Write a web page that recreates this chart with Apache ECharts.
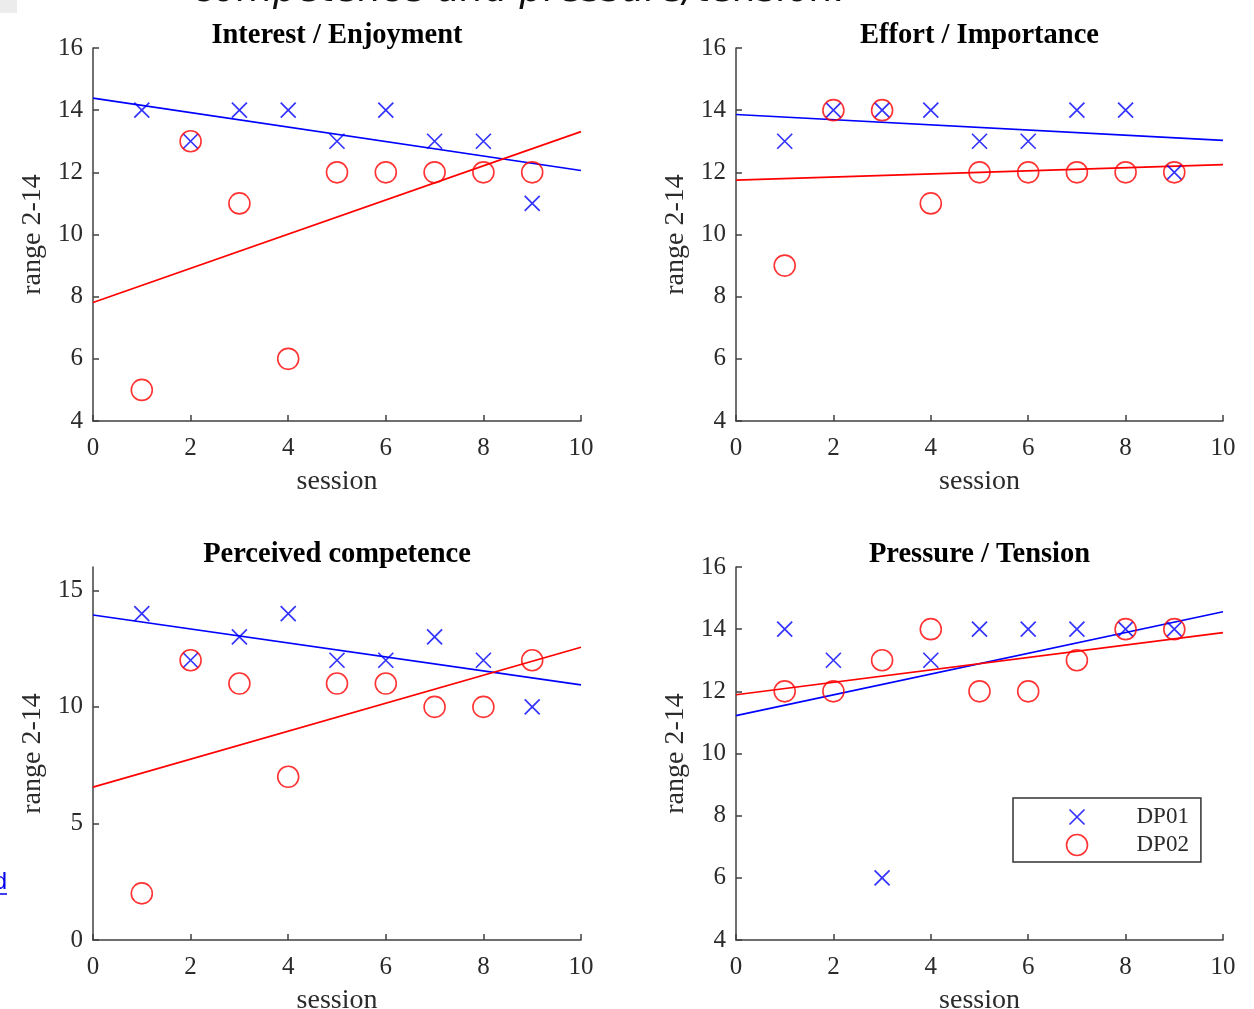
<!DOCTYPE html>
<html>
<head>
<meta charset="utf-8">
<script src="https://cdn.jsdelivr.net/npm/echarts@6/dist/echarts.min.js"></script>
<style>
  html, body { margin: 0; padding: 0; background: #fff; }
  #chart { width: 1254px; height: 1009px; }
</style>
</head>
<body>
<div id="chart"></div>
<script>
// ---- data ----
const sessions = [1, 2, 3, 4, 5, 6, 7, 8, 9];
const panelTitles = ['Interest / Enjoyment', 'Effort / Importance', 'Perceived competence', 'Pressure / Tension'];
const seriesNames = ['DP01', 'DP02'];

const dp01Interest   = [14, 13, 14, 14, 13, 14, 13, 13, 11];
const dp02Interest   = [5, 13, 11, 6, 12, 12, 12, 12, 12];
const dp01Effort     = [13, 14, 14, 14, 13, 13, 14, 14, 12];
const dp02Effort     = [9, 14, 14, 11, 12, 12, 12, 12, 12];
const dp01Competence = [14, 12, 13, 14, 12, 12, 13, 12, 10];
const dp02Competence = [2, 12, 11, 7, 11, 11, 10, 10, 12];
const dp01Pressure   = [14, 13, 6, 13, 14, 14, 14, 14, 14];
const dp02Pressure   = [12, 12, 13, 14, 12, 12, 13, 14, 14];

// trend lines, read at session 0 and session 10
const fitSessions       = [0, 10];
const dp01InterestFit   = [14.39, 12.06];
const dp02InterestFit   = [7.81, 13.31];
const dp01EffortFit     = [13.86, 13.03];
const dp02EffortFit     = [11.75, 12.25];
const dp01CompetenceFit = [13.94, 10.94];
const dp02CompetenceFit = [6.56, 12.56];
const dp01PressureFit   = [11.22, 14.56];
const dp02PressureFit   = [11.89, 13.89];

// tick labels
const xTickValues  = [0, 2, 4, 6, 8, 10];
const yTicksRange  = [4, 6, 8, 10, 12, 14, 16];
const yTicksComp   = [0, 5, 10, 15];

// ---- build chart ----
const SERIF = '"Liberation Serif", "Times New Roman", serif';
const AX = '#404040';
const TXT = '#2b2b2b';
const BLUE = '#0000ff';
const RED = '#ff0000';
const CROSS = 'path://M0,0L10,10M10,0L0,10';
const CROSS_LEGEND = 'path://M-2,-2M12,12M0,0L10,10M10,0L0,10';

const panels = [
  { d1: dp01Interest, d2: dp02Interest, f1: dp01InterestFit, f2: dp02InterestFit, yMin: 4, yMax: 16, yInt: 2, yTicks: yTicksRange },
  { d1: dp01Effort, d2: dp02Effort, f1: dp01EffortFit, f2: dp02EffortFit, yMin: 4, yMax: 16, yInt: 2, yTicks: yTicksRange },
  { d1: dp01Competence, d2: dp02Competence, f1: dp01CompetenceFit, f2: dp02CompetenceFit, yMin: 0, yMax: 16, yInt: 5, yTicks: yTicksComp },
  { d1: dp01Pressure, d2: dp02Pressure, f1: dp01PressureFit, f2: dp02PressureFit, yMin: 4, yMax: 16, yInt: 2, yTicks: yTicksRange }
];

const gridBoxes = [
  { left: 93,  top: 48,  width: 488, height: 373 },
  { left: 736, top: 48,  width: 487, height: 373 },
  { left: 93,  top: 567, width: 488, height: 373 },
  { left: 736, top: 567, width: 487, height: 373 }
];

const grids = [], xAxes = [], yAxes = [], series = [], graphics = [];

panels.forEach((p, i) => {
  const g = gridBoxes[i];
  grids.push(Object.assign({ containLabel: false, outerBoundsMode: 'none' }, g));

  const axisCommon = {
    gridIndex: i,
    type: 'value',
    splitLine: { show: false },
    axisLine: { show: true, lineStyle: { color: AX, width: 1.5 } },
    axisTick: { show: true, inside: true, length: 6, lineStyle: { color: AX, width: 1.5 } },
    nameLocation: 'middle',
    nameTextStyle: { fontFamily: SERIF, fontSize: 28, color: TXT }
  };

  xAxes.push(Object.assign({}, axisCommon, {
    min: 0, max: 10, interval: 2,
    name: 'session', nameGap: 47,
    axisTick: Object.assign({}, axisCommon.axisTick, { customValues: xTickValues }),
    axisLabel: { margin: 15, fontFamily: SERIF, fontSize: 25, color: TXT, customValues: xTickValues }
  }));

  yAxes.push(Object.assign({}, axisCommon, {
    min: p.yMin, max: p.yMax, interval: p.yInt,
    name: 'range 2-14', nameGap: 46,
    axisTick: Object.assign({}, axisCommon.axisTick, { customValues: p.yTicks }),
    axisLabel: { margin: 10, fontFamily: SERIF, fontSize: 25, color: TXT, customValues: p.yTicks }
  }));

  series.push({
    name: seriesNames[0], type: 'scatter', xAxisIndex: i, yAxisIndex: i,
    data: sessions.map((s, k) => [s, p.d1[k]]),
    symbol: CROSS, symbolSize: 15,
    itemStyle: { color: 'none', borderColor: BLUE, borderWidth: 1.7 },
    emphasis: { disabled: true }, z: 3
  });
  series.push({
    name: seriesNames[1], type: 'scatter', xAxisIndex: i, yAxisIndex: i,
    data: sessions.map((s, k) => [s, p.d2[k]]),
    symbol: 'circle', symbolSize: 21,
    itemStyle: { color: 'none', borderColor: RED, borderWidth: 1.6 },
    emphasis: { disabled: true }, z: 3
  });
  series.push({
    name: 'DP01 trend', type: 'line', xAxisIndex: i, yAxisIndex: i,
    data: fitSessions.map((s, k) => [s, p.f1[k]]),
    symbol: 'none', lineStyle: { color: BLUE, width: 1.7 }, silent: true, z: 2
  });
  series.push({
    name: 'DP02 trend', type: 'line', xAxisIndex: i, yAxisIndex: i,
    data: fitSessions.map((s, k) => [s, p.f2[k]]),
    symbol: 'none', lineStyle: { color: RED, width: 1.7 }, silent: true, z: 2
  });

  graphics.push({
    type: 'text',
    x: g.left + g.width / 2,
    y: g.top - 12,
    style: {
      text: panelTitles[i],
      textAlign: 'center', textVerticalAlign: 'middle',
      font: 'bold 28.5px ' + SERIF, fill: '#000'
    }
  });
});

// surrounding page fragments visible in the screenshot
graphics.push({
  type: 'rect', shape: { x: 0, y: 0, width: 17, height: 13 },
  style: { fill: '#ececec' }
});
graphics.push({
  type: 'text', x: 193, y: -9,
  style: {
    text: 'competence and pressure/tension.',
    textAlign: 'left', textVerticalAlign: 'middle',
    font: 'italic 37.5px "DejaVu Sans", sans-serif', fill: '#111'
  }
});
graphics.push({
  type: 'text', x: 7, y: 882,
  style: { text: 'd', textAlign: 'right', textVerticalAlign: 'middle', font: '24px "Liberation Sans", sans-serif', fill: '#0000ee' }
});
graphics.push({
  type: 'line', shape: { x1: 0, y1: 894, x2: 7, y2: 894 },
  style: { stroke: '#0000ee', lineWidth: 1.5 }
});

const option = {
  backgroundColor: '#fff',
  animation: false,
  grid: grids,
  xAxis: xAxes,
  yAxis: yAxes,
  series: series,
  graphic: graphics,
  legend: {
    show: true,
    orient: 'vertical',
    left: 1013, top: 798,
    padding: [6, 12, 4, 51],
    itemWidth: 21, itemHeight: 21, itemGap: 2,
    borderColor: '#333', borderWidth: 1.5, borderRadius: 0,
    backgroundColor: '#fff',
    selectedMode: false,
    textStyle: { fontFamily: SERIF, fontSize: 23, color: TXT, padding: [0, 0, 0, 44] },
    data: [
      { name: 'DP01', icon: CROSS_LEGEND, itemStyle: { color: 'none', borderColor: BLUE, borderWidth: 1.7 } },
      { name: 'DP02', icon: 'circle', itemStyle: { color: 'none', borderColor: RED, borderWidth: 1.6 } }
    ]
  }
};

const chart = echarts.init(document.getElementById('chart'), null, { renderer: 'canvas' });
chart.setOption(option);
</script>
</body>
</html>
